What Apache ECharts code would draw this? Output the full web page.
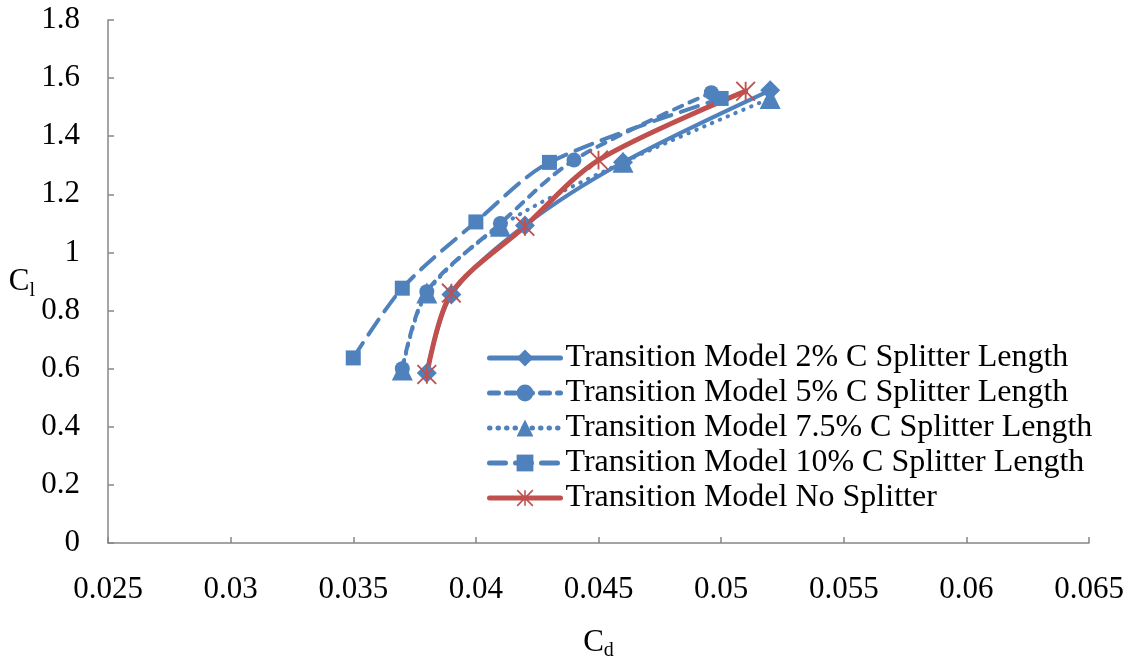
<!DOCTYPE html>
<html><head><meta charset="utf-8">
<script src="https://cdn.jsdelivr.net/npm/echarts@6/dist/echarts.min.js"></script>
<style>html,body{margin:0;padding:0;background:#fff}#c{width:1133px;height:660px}</style>
</head><body><div id="c"></div>
<script>
const seriesNames = [
  'Transition Model 2% C Splitter Length',
  'Transition Model 5% C Splitter Length',
  'Transition Model 7.5% C Splitter Length',
  'Transition Model 10% C Splitter Length',
  'Transition Model No Splitter'
];
const cd2 = [0.038, 0.039, 0.042, 0.046, 0.052];
const cl2 = [0.585, 0.855, 1.093, 1.31, 1.558];
const cd5 = [0.037, 0.038, 0.041, 0.044, 0.0496];
const cl5 = [0.60, 0.865, 1.10, 1.318, 1.55];
const cd75 = [0.037, 0.038, 0.041, 0.046, 0.052];
const cl75 = [0.595, 0.86, 1.09, 1.31, 1.53];
const cd10 = [0.035, 0.037, 0.040, 0.043, 0.050];
const cl10 = [0.637, 0.877, 1.105, 1.31, 1.53];
const cdNo = [0.038, 0.039, 0.042, 0.045, 0.051];
const clNo = [0.58, 0.86, 1.09, 1.318, 1.555];
const xTicks = {min: 0.025, max: 0.065, interval: 0.005};
const yTicks = {min: 0, max: 1.8, interval: 0.2};

const blue = '#4F81BD', red = '#C0504D';
const star = 'path://M-1,-10L1,-10L1,10L-1,10Z M-10.7,-9.3L-9.3,-10.7L10.7,9.3L9.3,10.7Z M9.3,-10.7L10.7,-9.3L-9.3,10.7L-10.7,9.3Z';
const zip = (a, b) => a.map((v, i) => [v, b[i]]);
const font = '"Liberation Serif","Times New Roman",serif';
const fs = 31;

function mk(name, xs, ys, color, dash, symbol, size, width) {
  return {
    name, type: 'line', data: zip(xs, ys), smooth: 0.3,
    symbol, symbolSize: size,
    lineStyle: {color, width, type: dash, cap: 'round'},
    itemStyle: {color, borderColor: color, borderWidth: 0},
    emphasis: {disabled: true}
  };
}
const legendItem = (name, color, dash, width) => ({
  name, lineStyle: {color, width, type: dash, cap: 'round'}
});

const chart = echarts.init(document.getElementById('c'));
chart.setOption({
  animation: false,
  backgroundColor: '#fff',
  grid: {left: 108, right: 44, top: 20, bottom: 117, containLabel: false, outerBoundsMode: 'none'},
  xAxis: {
    type: 'value', min: xTicks.min, max: xTicks.max, interval: xTicks.interval,
    name: '{a|C}{b|d}', nameLocation: 'middle', nameGap: 82,
    nameTextStyle: {rich: {a: {fontFamily: font, fontSize: fs, color: '#000'}, b: {fontFamily: font, fontSize: 20, color: '#000', padding: [16, 0, 0, 0]}}},
    axisLine: {lineStyle: {color: '#868686', width: 1.5}},
    axisTick: {inside: true, length: 6, lineStyle: {color: '#868686', width: 1.5}},
    axisLabel: {fontFamily: font, fontSize: fs, color: '#000', margin: 31, formatter: v => String(+v.toFixed(3))},
    splitLine: {show: false}
  },
  yAxis: {
    type: 'value', min: yTicks.min, max: yTicks.max, interval: yTicks.interval,
    name: '{a|C}{b|l}', nameLocation: 'middle', nameGap: 73, nameRotate: 0,
    nameTextStyle: {rich: {a: {fontFamily: font, fontSize: fs, color: '#000'}, b: {fontFamily: font, fontSize: 20, color: '#000', padding: [18, 0, 0, 0]}}},
    axisLine: {show: true, lineStyle: {color: '#868686', width: 1.5}},
    axisTick: {show: true, inside: true, length: 6, lineStyle: {color: '#868686', width: 1.5}},
    axisLabel: {fontFamily: font, fontSize: fs, color: '#000', margin: 28, formatter: v => String(+v.toFixed(1))},
    splitLine: {show: false}
  },
  legend: {
    left: 487, top: 342, orient: 'vertical', itemGap: 3, padding: 0,
    itemWidth: 71, itemHeight: 21,
    textStyle: {fontFamily: font, fontSize: 32, color: '#000'},
    data: [
      legendItem(seriesNames[0], blue, 'solid', 5),
      legendItem(seriesNames[1], blue, [9, 8], 5),
      legendItem(seriesNames[2], blue, [0.5, 8], 5),
      legendItem(seriesNames[3], blue, [16, 10], 5),
      legendItem(seriesNames[4], red, 'solid', 5)
    ]
  },
  series: [
    mk(seriesNames[0], cd2, cl2, blue, 'solid', 'diamond', 20, 4),
    mk(seriesNames[1], cd5, cl5, blue, [9, 8], 'circle', 15, 4),
    mk(seriesNames[2], cd75, cl75, blue, [0.5, 8], 'triangle', 21, 4),
    mk(seriesNames[3], cd10, cl10, blue, [18, 10], 'rect', 15, 4),
    mk(seriesNames[4], cdNo, clNo, red, 'solid', star, 20, 5)
  ]
});
</script></body></html>
